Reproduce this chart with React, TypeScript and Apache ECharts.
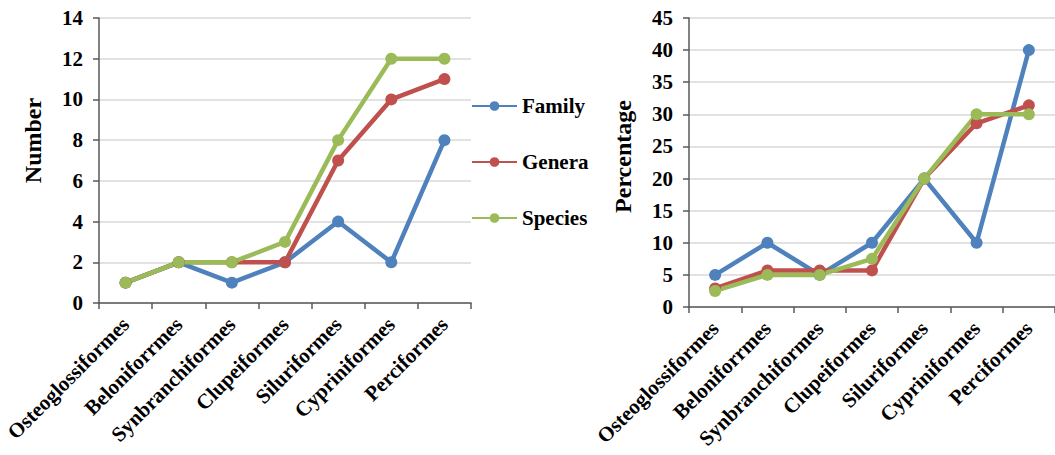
import React, { useEffect, useRef } from "react";
import * as echarts from "echarts";

const categories = [
  "Osteoglossiformes",
  "Beloniforrmes",
  "Synbranchiformes",
  "Clupeiformes",
  "Siluriformes",
  "Cypriniformes",
  "Perciformes",
];

const seriesNames = ["Family", "Genera", "Species"];
const colors = ["#4f81bd", "#c0504d", "#9bbb59"];

const familyCount = [1, 2, 1, 2, 4, 2, 8];
const generaCount = [1, 2, 2, 2, 7, 10, 11];
const speciesCount = [1, 2, 2, 3, 8, 12, 12];

const familyPct = [5, 10, 5, 10, 20, 10, 40];
const generaPct = [2.9, 5.7, 5.7, 5.7, 20, 28.6, 31.4];
const speciesPct = [2.5, 5, 5, 7.5, 20, 30, 30];

const FONT = '"Liberation Serif", "Times New Roman", serif';

export default function App() {
  const ref = useRef<HTMLDivElement>(null);

  useEffect(() => {
    if (!ref.current) return;
    const chart = echarts.init(ref.current, null, { renderer: "svg" });

    const axisLine = { show: true, lineStyle: { color: "#595959", width: 1.5 } };
    const xAxisBase = (gridIndex: number) => ({
      type: "category" as const,
      gridIndex,
      data: categories,
      boundaryGap: true,
      axisLine,
      axisTick: { show: true, length: 6, alignWithLabel: false, lineStyle: { color: "#595959", width: 1.5 } },
      axisLabel: {
        rotate: 45,
        interval: 0,
        margin: 18,
        fontFamily: FONT,
        fontWeight: "bold" as const,
        fontSize: 21,
        color: "#000",
      },
      splitLine: { show: false },
    });
    const yAxisBase = (
      gridIndex: number,
      name: string,
      max: number,
      interval: number,
      fs: number,
      shift: number
    ) => ({
      type: "value" as const,
      gridIndex,
      min: 0,
      max,
      interval,
      name,
      nameLocation: "middle" as const,
      nameGap: 54,
      nameTextStyle: {
        fontFamily: FONT,
        fontWeight: "bold" as const,
        fontSize: 24,
        color: "#000",
        padding: [0, 0, 0, shift],
      },
      axisLine,
      axisTick: { show: true, length: 6, lineStyle: { color: "#595959", width: 1.5 } },
      axisLabel: { margin: 16, fontFamily: FONT, fontWeight: "bold" as const, fontSize: fs, color: "#000" },
      splitLine: { show: true, lineStyle: { color: "#d9d9d9", width: 1.5 } },
    });

    const mk = (name: string, idx: number, data: number[], color: string) => ({
      name,
      type: "line" as const,
      xAxisIndex: idx,
      yAxisIndex: idx,
      data,
      symbol: "circle",
      symbolSize: 12,
      lineStyle: { width: 4.5, color },
      itemStyle: { color },
      color,
    });

    chart.setOption({
      animation: false,
      backgroundColor: "#fff",
      color: colors,
      legend: {
        orient: "vertical",
        left: 466,
        top: 90,
        itemWidth: 45,
        itemHeight: 12,
        itemGap: 34,
        data: seriesNames,
        textStyle: { fontFamily: FONT, fontWeight: "bold", fontSize: 21, color: "#000", lineHeight: 22 },
      },
      grid: [
        { left: 99, top: 18, width: 372, height: 285 },
        { left: 689, top: 18, width: 373, height: 289 },
      ],
      xAxis: [xAxisBase(0), xAxisBase(1)],
      yAxis: [yAxisBase(0, "Number", 14, 2, 21, 40), yAxisBase(1, "Percentage", 45, 5, 21, 12)],
      series: [
        mk(seriesNames[0], 0, familyCount, colors[0]),
        mk(seriesNames[1], 0, generaCount, colors[1]),
        mk(seriesNames[2], 0, speciesCount, colors[2]),
        mk(seriesNames[0], 1, familyPct, colors[0]),
        mk(seriesNames[1], 1, generaPct, colors[1]),
        mk(seriesNames[2], 1, speciesPct, colors[2]),
      ],
    });

    return () => chart.dispose();
  }, []);

  return (
    <div
      ref={ref}
      style={{ position: "fixed", left: 0, top: 0, width: 1055, height: 455, background: "#fff" }}
    />
  );
}
